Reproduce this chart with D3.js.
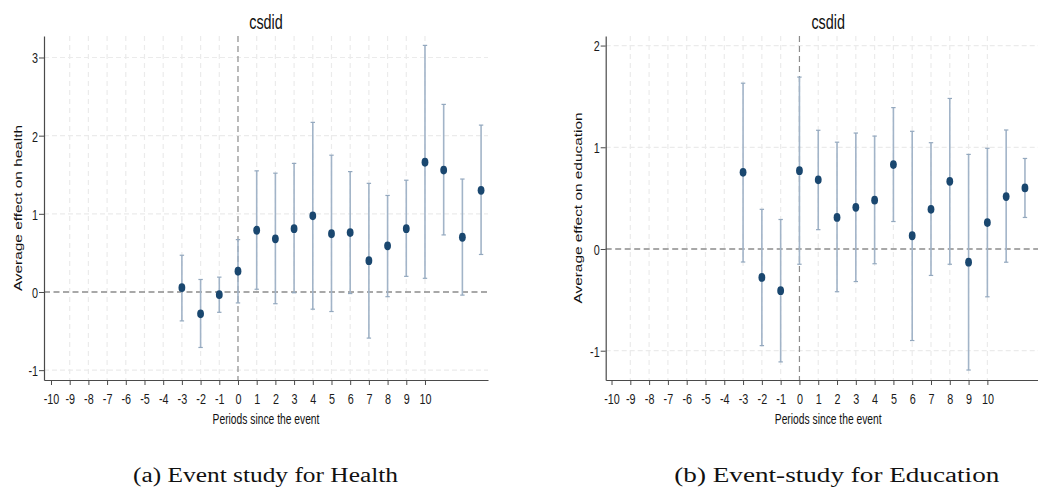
<!DOCTYPE html>
<html>
<head>
<meta charset="utf-8">
<script src="https://cdn.jsdelivr.net/npm/d3@7"></script>
<style>
  html, body { margin: 0; padding: 0; background: #fff; }
  svg { display: block; }
</style>
</head>
<body>
<svg id="chart" width="1038" height="487"></svg>
<script>
// ---------------- data ----------------
const xTickValues = [-10,-9,-8,-7,-6,-5,-4,-3,-2,-1,0,1,2,3,4,5,6,7,8,9,10];

const healthPeriods = [-3,-2,-1,0,1,2,3,4,5,6,7,8,9,10,11,12,13];
const healthEst = [0.055,-0.28,-0.035,0.265,0.79,0.68,0.81,0.975,0.745,0.76,0.40,0.59,0.81,1.66,1.56,0.70,1.30];
const healthLo  = [-0.37,-0.71,-0.26,-0.14,0.035,-0.15,-0.01,-0.22,-0.25,-0.02,-0.59,-0.06,0.20,0.175,0.73,-0.04,0.48];
const healthHi  = [0.47,0.16,0.19,0.67,1.55,1.52,1.645,2.17,1.75,1.54,1.39,1.235,1.43,3.155,2.40,1.445,2.135];
const healthYTicks = [-1,0,1,2,3];

const eduPeriods = [-3,-2,-1,0,1,2,3,4,5,6,7,8,9,10,11,12];
const eduEst = [0.754,-0.28,-0.41,0.77,0.68,0.31,0.41,0.48,0.83,0.13,0.39,0.665,-0.13,0.26,0.515,0.60];
const eduLo  = [-0.128,-0.95,-1.11,-0.15,0.19,-0.42,-0.32,-0.145,0.27,-0.90,-0.26,-0.15,-1.19,-0.47,-0.13,0.31];
const eduHi  = [1.63,0.39,0.29,1.69,1.167,1.05,1.14,1.11,1.39,1.157,1.045,1.48,0.93,0.99,1.17,0.89];
const eduYTicks = [-1,0,1,2];

const titleText = "csdid";
const xTitleText = "Periods since the event";
const healthYTitle = "Average effect on health";
const eduYTitle = "Average effect on education";
const captionA = "(a) Event study for Health";
const captionB = "(b) Event-study for Education";

// ---------------- drawing ----------------
const svg = d3.select("#chart");
const SANS = "'Liberation Sans', Arial, Helvetica, sans-serif";
const SX = 0.72;            // horizontal compression of the original image
const GRID = "#ebebeb";
const AXIS = "#4a4a4a";
const BAR = "#a2b4c8";
const DOT = "#1a476f";
const fmt = d => String(d);   // plain hyphen-minus as in the original

function panel(cfg) {
  const g = svg.append("g");
  const x = d3.scaleLinear().domain(cfg.xDomain).range([cfg.left, cfg.right]);
  const y = d3.scaleLinear().domain(cfg.yDomain).range([cfg.bottom, cfg.top]);

  // horizontal grid (not at 0)
  g.selectAll(".hg").data(cfg.yTicks.filter(d => d !== 0)).join("line")
    .attr("x1", cfg.left).attr("x2", cfg.right)
    .attr("y1", d => y(d)).attr("y2", d => y(d))
    .attr("stroke", GRID).attr("stroke-width", 1.2).attr("stroke-dasharray", "5,3");
  // vertical grid (skip first tick and 0)
  g.selectAll(".vg").data(xTickValues.filter(d => d !== 0 && d !== xTickValues[0])).join("line")
    .attr("x1", d => x(d)).attr("x2", d => x(d))
    .attr("y1", cfg.top).attr("y2", cfg.bottom)
    .attr("stroke", GRID).attr("stroke-width", 1.2).attr("stroke-dasharray", "5,4");

  // reference lines
  g.append("line")
    .attr("x1", cfg.left).attr("x2", cfg.right).attr("y1", y(0)).attr("y2", y(0))
    .attr("stroke", "#8c8c8c").attr("stroke-width", 1.6).attr("stroke-dasharray", "6,3.5");
  g.append("line")
    .attr("x1", x(0)).attr("x2", x(0)).attr("y1", cfg.top).attr("y2", cfg.bottom)
    .attr("stroke", "#8c8c8c").attr("stroke-width", 1.2).attr("stroke-dasharray", "6,4");

  const rows = cfg.periods.map((p, i) => ({p, est: cfg.est[i], lo: cfg.lo[i], hi: cfg.hi[i]}));

  // error bars
  g.selectAll(".bar").data(rows).join("line")
    .attr("x1", d => x(d.p)).attr("x2", d => x(d.p))
    .attr("y1", d => y(d.lo)).attr("y2", d => y(d.hi))
    .attr("stroke", BAR).attr("stroke-width", 1.6);
  ["lo", "hi"].forEach(k => {
    g.selectAll(".cap" + k).data(rows).join("line")
      .attr("x1", d => x(d.p) - 2.2).attr("x2", d => x(d.p) + 2.2)
      .attr("y1", d => y(d[k])).attr("y2", d => y(d[k]))
      .attr("stroke", "#93a8be").attr("stroke-width", 1.2);
  });
  // points
  g.selectAll(".pt").data(rows).join("ellipse")
    .attr("cx", d => x(d.p)).attr("cy", d => y(d.est))
    .attr("rx", 3.4).attr("ry", 4.4).attr("fill", DOT);

  // axes
  const xa = g.append("g").attr("transform", `translate(0,${cfg.bottom})`)
    .call(d3.axisBottom(x).tickValues(xTickValues).tickSize(5).tickSizeOuter(0).tickPadding(8).tickFormat(fmt));
  const ya = g.append("g").attr("transform", `translate(${cfg.left},0)`)
    .call(d3.axisLeft(y).tickValues(cfg.yTicks).tickSize(5).tickSizeOuter(0).tickFormat(fmt));
  [xa, ya].forEach(a => {
    a.select(".domain").attr("stroke", AXIS).attr("stroke-width", 1.2);
    a.selectAll(".tick line").attr("stroke", AXIS).attr("stroke-width", 1);
    a.selectAll("text").attr("font-family", SANS).attr("font-size", 15).attr("fill", "#1a1a1a");
  });
  xa.selectAll("text").attr("transform", `scale(${SX},1)`);
  ya.selectAll("text").attr("x", -6 / SX).attr("dy", "0.36em").attr("transform", `scale(${SX},1)`);
  const cx = (cfg.left + cfg.right) / 2;

  // title
  g.append("text").attr("transform", `translate(${cx},29) scale(${SX},1)`)
    .attr("text-anchor", "middle").attr("font-family", SANS).attr("font-size", 20)
    .attr("fill", "#111").text(titleText);
  // x title
  g.append("text").attr("transform", `translate(${cx},423.5) scale(${SX},1)`)
    .attr("text-anchor", "middle").attr("font-family", SANS).attr("font-size", 14.3)
    .attr("fill", "#111").text(xTitleText);
  // y title
  g.append("text").attr("transform", `translate(${cfg.yTitleX},${(cfg.top + cfg.bottom) / 2}) rotate(-90) scale(1,${SX})`)
    .attr("text-anchor", "middle").attr("font-family", SANS).attr("font-size", 15.4)
    .attr("fill", "#111").text(cfg.yTitle);
  // caption
  g.append("text").attr("x", cfg.capX).attr("y", 481.5)
    .attr("text-anchor", "middle").attr("font-family", "'Liberation Serif', 'DejaVu Serif', serif")
    .attr("font-size", 20).attr("fill", "#111")
    .attr("textLength", cfg.capW).attr("lengthAdjust", "spacingAndGlyphs")
    .text(cfg.caption);
}

panel({
  left: 44, right: 488, top: 36, bottom: 380,
  xDomain: [-10.374, 13.37], yDomain: [-1.126, 3.275],
  yTicks: healthYTicks, periods: healthPeriods,
  est: healthEst, lo: healthLo, hi: healthHi,
  yTitle: healthYTitle, yTitleX: 21.5,
  caption: captionA, capX: 265.5, capW: 265
});

panel({
  left: 605.7, right: 1050.7, top: 36, bottom: 380,
  xDomain: [-10.31, 13.37], yDomain: [-1.288, 2.094],
  yTicks: eduYTicks, periods: eduPeriods,
  est: eduEst, lo: eduLo, hi: eduHi,
  yTitle: eduYTitle, yTitleX: 581.5,
  caption: captionB, capX: 836.8, capW: 325
});
</script>
</body>
</html>
